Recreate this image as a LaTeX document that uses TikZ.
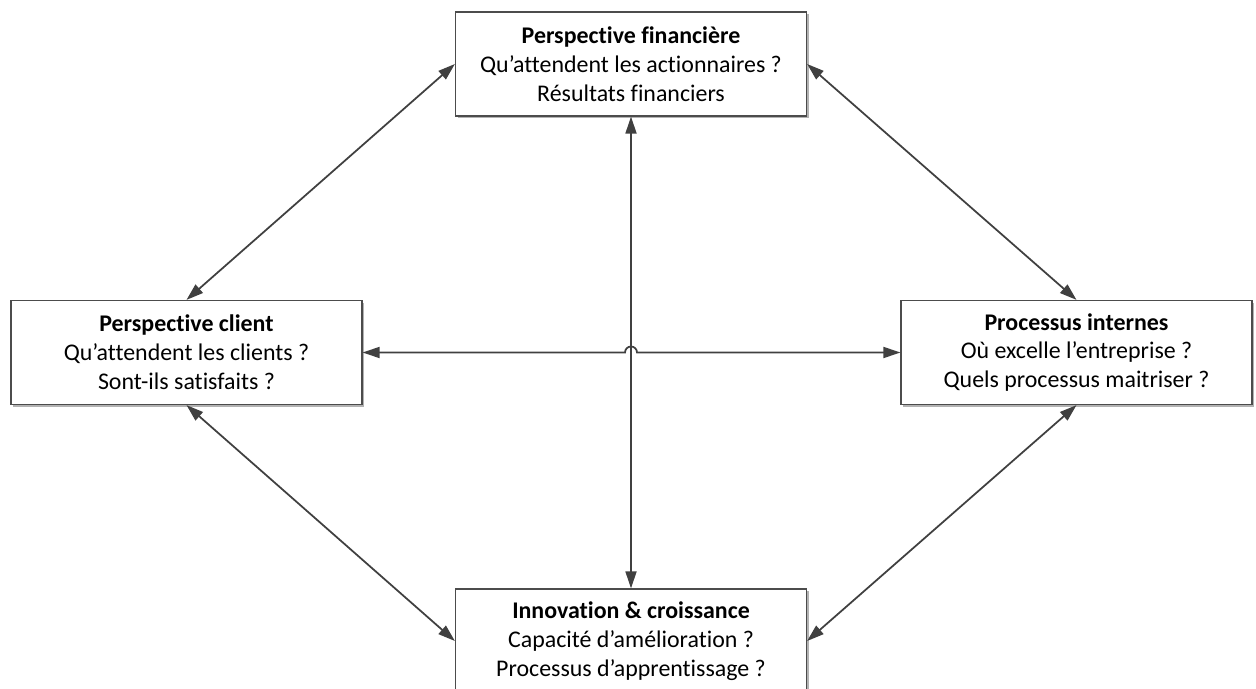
\documentclass[tikz,border=0pt]{standalone}
\usepackage{fontspec}
\setmainfont{Carlito}[Ligatures=NoCommon]
\usetikzlibrary{arrows.meta,shadows}

\begin{document}
\begin{tikzpicture}[
  persp/.style={draw=black!70, fill=white, line width=0.7pt,
    minimum width=7.02cm, minimum height=2.08cm, align=center,
    font=\fontsize{13.6}{16.4}\selectfont,
    execute at begin node={\rule{0pt}{14.5pt}},
    drop shadow={shadow xshift=1.2pt, shadow yshift=-1.2pt, fill=black!30, opacity=1}},
  lien/.style={draw=black!75, line width=1pt,
    {Triangle[length=0.34cm,width=0.22cm]}-{Triangle[length=0.34cm,width=0.22cm]}}
]
  \useasboundingbox (0,0) rectangle (25.12,-13.78);

  % les quatre perspectives
  \node[persp] (fin) at (12.62,-1.28)
    {\textbf{Perspective financière}\\ Qu’attendent les actionnaires ?\\ Résultats financiers};
  \node[persp] (client) at (3.73,-7.05)
    {\textbf{Perspective client}\\ Qu’attendent les clients ?\\ Sont-ils satisfaits ?};
  \node[persp] (interne) at (21.53,-7.05)
    {\textbf{Processus internes}\\ Où excelle l’entreprise ?\\ Quels processus maitriser ?};
  \node[persp] (innov) at (12.62,-12.82)
    {\textbf{Innovation \& croissance}\\ Capacité d’amélioration ?\\ Processus d’apprentissage ?};

  % liens en losange
  \draw[lien] (client.north) -- (fin.west);
  \draw[lien] (fin.east) -- (interne.north);
  \draw[lien] (client.south) -- (innov.west);
  \draw[lien] (innov.east) -- (interne.south);

  % axe vertical
  \draw[lien] (fin.south) -- (innov.north);

  % axe horizontal, avec saut au croisement
  \coordinate (croix) at (fin.south |- client.east);
  \draw[lien] (client.east) -- ([xshift=-0.12cm]croix)
    arc[start angle=180, end angle=0, radius=0.12cm] -- (interne.west);

\end{tikzpicture}
\end{document}
